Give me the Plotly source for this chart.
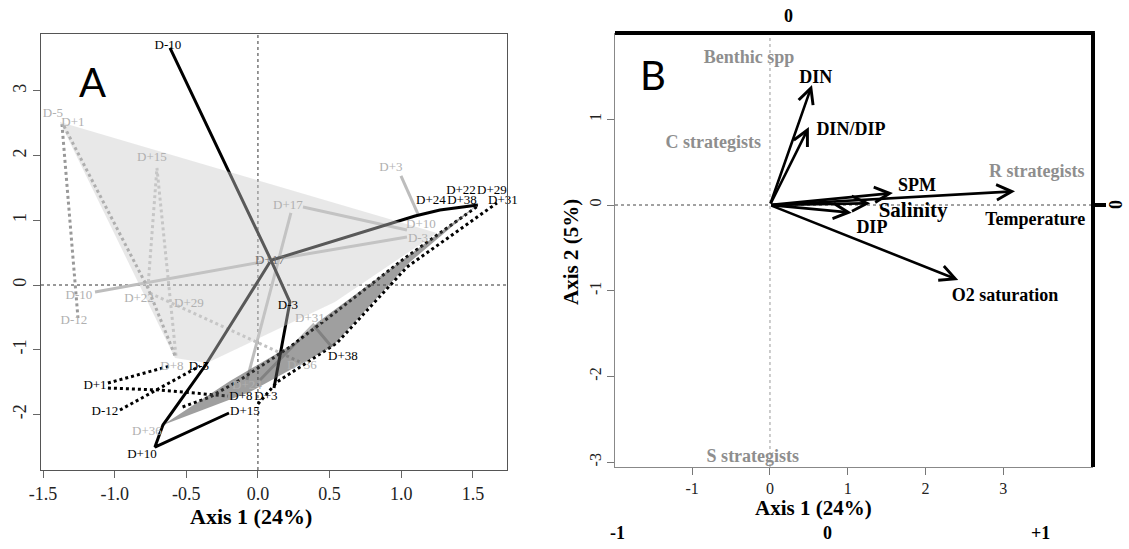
import plotly.graph_objects as go

W, H = 1129, 549
SERIF = "Liberation Serif"

# ================= Panel A : trajectories =================
# convex hulls
hull_light_x = [-1.382, 1.249, 0.537, -0.356, -0.579]
hull_light_y = [2.519, 0.804, -0.263, -1.206, -1.128]
hull_dark_x = [-0.663, -0.195, 0.293, 0.419, 1.549, 1.061, 0.516, -0.056]
hull_dark_y = [-2.164, -1.484, -0.850, -0.572, 1.267, 0.355, -0.958, -1.654]

# black solid trajectories
blk1_x = [-0.614, 0.084, 0.223, 0.112]
blk1_y = [3.663, 0.417, -0.263, -1.592]
blk2_x = [0.084, -0.370, -0.663, -0.719, -0.202]
blk2_y = [0.355, -1.252, -2.164, -2.504, -1.978]
blk3_x = [0.098, 1.096, 1.270, 1.535]
blk3_y = [0.386, 1.066, 1.159, 1.236]

# light grey solid trajectories
lgt1_x = [-1.137, 0.028]
lgt1_y = [-0.108, 0.355]
lgt2_x = [0.230, -0.077]
lgt2_y = [1.113, -1.468]
lgt3_x = [0.314, 1.040]
lgt3_y = [1.206, 0.850]
lgt4_x = [0.174, 1.040]
lgt4_y = [0.417, 0.742]
lgt5_x = [0.998, 1.117]
lgt5_y = [1.685, 1.097]
lgt6_x = [0.014, 0.386, 0.516]
lgt6_y = [-1.468, -0.618, -0.958]

# light grey dotted trajectories
lgd1_x = [-0.768, -0.705, -0.572]
lgd1_y = [-0.046, 1.808, -1.097]
lgd2_x = [-0.754, 0.293]
lgd2_y = [-0.124, -1.190]

# medium grey dotted trajectories
mgd1_x = [-1.368, -1.256]
mgd1_y = [2.488, -0.510]
mgd2_x = [-1.354, -0.768, -0.572]
mgd2_y = [2.457, -0.046, -1.128]

# black dotted trajectories
bkd1_x = [-1.047, -0.614]
bkd1_y = [-1.515, -1.252]
bkd2_x = [-1.047, -0.684, -0.209]
bkd2_y = [-1.592, -1.623, -1.716]
bkd3_x = [-0.963, -0.405]
bkd3_y = [-1.932, -1.252]
bkd4_x = [-0.526, -0.335, -0.126, 0.223, 0.516, 1.026, 1.535]
bkd4_y = [-1.885, -1.731, -1.468, -0.958, -0.464, 0.417, 1.221]
bkd5_x = [0.000, 0.133, 0.551, 1.040, 1.668]
bkd5_y = [-1.839, -1.499, -0.896, 0.278, 1.267]

# sample labels
lab_black = ["D-10", "D+22", "D+29", "D+24", "D+38", "D+31", "D-3", "D+38",
             "D-5", "D+8", "D+3", "D+15", "D+10", "D+1", "D-12"]
lab_black_x = [-0.628, 1.417, 1.633, 1.207, 1.424, 1.710, 0.209, 0.593,
               -0.412, -0.119, 0.056, -0.091, -0.809, -1.137, -1.068]
lab_black_y = [3.694, 1.453, 1.453, 1.298, 1.298, 1.298, -0.325, -1.113,
               -1.267, -1.731, -1.731, -1.963, -2.628, -1.561, -1.963]
lab_mid = ["D+17"]
lab_mid_x = [0.084]
lab_mid_y = [0.371]
lab_light = ["D-5", "D+1", "D+15", "D-10", "D-12", "D+22", "D+29", "D+8",
             "D+36", "D+17", "D+3", "D+10", "D-3", "D+31", "D+36", "D+24"]
lab_light_x = [-1.431, -1.291, -0.740, -1.249, -1.284, -0.830, -0.482, -0.600,
               -0.775, 0.209, 0.928, 1.137, 1.117, 0.363, 0.307, -0.077]
lab_light_y = [2.643, 2.504, 1.963, -0.170, -0.556, -0.216, -0.294, -1.267,
               -2.272, 1.221, 1.808, 0.927, 0.711, -0.525, -1.252, -1.561]

a_xticks = [-1.5, -1.0, -0.5, 0.0, 0.5, 1.0, 1.5]
a_xtick_text = ["-1.5", "-1.0", "-0.5", "0.0", "0.5", "1.0", "1.5"]
a_yticks = [-2, -1, 0, 1, 2, 3]
a_ytick_text = ["-2", "-1", "0", "1", "2", "3"]

# ================= Panel B : correlation arrows =================
var_names = ["DIN", "DIN/DIP", "SPM", "Salinity", "DIP", "Temperature", "O2 saturation"]
arrow_x = [0.54, 0.50, 1.58, 1.29, 1.05, 3.15, 2.42]
arrow_y = [1.40, 0.91, 0.14, 0.02, -0.09, 0.16, -0.875]
var_lab_x = [0.59, 1.04, 1.89, 1.84, 1.31, 3.41, 3.02]
var_lab_y = [1.48, 0.875, 0.22, -0.08, -0.27, -0.175, -1.07]
var_lab_size = [18, 18, 18, 21, 18, 18, 18]

grp_names = ["Benthic spp", "C strategists", "R strategists", "S strategists"]
grp_x = [-0.27, -0.73, 3.43, -0.22]
grp_y = [1.715, 0.72, 0.385, -2.95]

b_xticks = [-2, -1, 0, 1, 2, 3]
b_xtick_text = ["-2", "-1", "0", "1", "2", "3"]
b_yticks = [-3, -2, -1, 0, 1]
b_ytick_text = ["-3", "-2", "-1", "0", "1"]


def join(paths):
    xs, ys = [], []
    for px, py in paths:
        xs += list(px) + [None]
        ys += list(py) + [None]
    return xs, ys


fig = go.Figure()


def add_lines(paths, color, dash, width=3):
    xs, ys = join(paths)
    fig.add_trace(go.Scatter(x=xs, y=ys, mode="lines", xaxis="x", yaxis="y",
                             line=dict(color=color, width=width, dash=dash),
                             hoverinfo="skip", showlegend=False))


add_lines([(lgt1_x, lgt1_y), (lgt2_x, lgt2_y), (lgt3_x, lgt3_y), (lgt4_x, lgt4_y),
           (lgt5_x, lgt5_y), (lgt6_x, lgt6_y)], "#bdbdbd", "solid")
add_lines([(lgd1_x, lgd1_y), (lgd2_x, lgd2_y)], "#c2c2c2", "3px,3px")
add_lines([(mgd1_x, mgd1_y), (mgd2_x, mgd2_y)], "#999999", "3px,3px")
add_lines([(blk1_x, blk1_y), (blk2_x, blk2_y), (blk3_x, blk3_y)], "#000000", "solid")
add_lines([(bkd1_x, bkd1_y), (bkd2_x, bkd2_y), (bkd3_x, bkd3_y),
           (bkd4_x, bkd4_y), (bkd5_x, bkd5_y)], "#000000", "3px,3px")

# hulls (semi-transparent, over the lines)
fig.add_trace(go.Scatter(x=hull_dark_x, y=hull_dark_y, fill="toself", mode="none",
                         fillcolor="rgba(80,80,80,0.55)", xaxis="x", yaxis="y",
                         hoverinfo="skip", showlegend=False))
fig.add_trace(go.Scatter(x=hull_light_x, y=hull_light_y, fill="toself", mode="none",
                         fillcolor="rgba(203,203,203,0.44)", xaxis="x", yaxis="y",
                         hoverinfo="skip", showlegend=False))


def add_text(xs, ys, texts, color, size, xa="x", ya="y", bold=False):
    t = [("<b>%s</b>" % s) if bold else s for s in texts]
    fig.add_trace(go.Scatter(x=xs, y=ys, text=t, mode="text", xaxis=xa, yaxis=ya,
                             textposition="middle center", cliponaxis=False,
                             textfont=dict(family=SERIF, size=size, color=color),
                             hoverinfo="skip", showlegend=False))


add_text(lab_light_x, lab_light_y, lab_light, "#b0b0b0", 13)
add_text(lab_mid_x, lab_mid_y, lab_mid, "#707070", 13)
add_text(lab_black_x, lab_black_y, lab_black, "#000000", 13)

# Panel B labels
for i in range(len(var_names)):
    add_text([var_lab_x[i]], [var_lab_y[i]], [var_names[i]], "#000000",
             var_lab_size[i], "x2", "y2", bold=True)
add_text(grp_x, grp_y, grp_names, "#8e8e8e", 18, "x2", "y2", bold=True)

annotations = []
for i in range(len(var_names)):
    annotations.append(dict(x=arrow_x[i], y=arrow_y[i], xref="x2", yref="y2",
                            ax=0, ay=0, axref="x2", ayref="y2", text="",
                            showarrow=True, arrowhead=5, arrowsize=1.15,
                            arrowwidth=2.6, arrowcolor="#000000",
                            standoff=0, startstandoff=0))


def pan(text, x, y, size, bold=False, angle=0, family=SERIF, color="#000000"):
    annotations.append(dict(text=("<b>%s</b>" % text) if bold else text,
                            x=x / W, y=1 - y / H, xref="paper", yref="paper",
                            showarrow=False, xanchor="center", yanchor="middle",
                            textangle=angle,
                            font=dict(family=family, size=size, color=color)))


pan("A", 92, 82, 40, family="Lato")
pan("B", 653, 75, 40, family="Lato")
pan("Axis 1 (24%)", 251, 516, 22, bold=True)
pan("Axis 1 (24%)", 813, 508, 21, bold=True)
pan("Axis 2 (5%)", 571, 252, 21, bold=True, angle=-90)
pan("0", 788, 16, 18, bold=True)
pan("0", 1116, 205, 18, bold=True, angle=-90)
pan("-1", 617, 533, 18, bold=True)
pan("0", 827, 533, 18, bold=True)
pan("+1", 1040, 533, 18, bold=True)

shapes = [
    dict(type="line", xref="x", yref="y domain", x0=0, x1=0, y0=0, y1=1,
         line=dict(color="#333333", width=1, dash="dot"), layer="below"),
    dict(type="line", xref="x domain", yref="y", x0=0, x1=1, y0=0, y1=0,
         line=dict(color="#333333", width=1, dash="dot"), layer="below"),
    dict(type="line", xref="x2", yref="y2 domain", x0=0, x1=0, y0=0, y1=1,
         line=dict(color="#999999", width=1, dash="dot"), layer="below"),
    dict(type="line", xref="x2 domain", yref="y2", x0=0, x1=1, y0=0, y1=0,
         line=dict(color="#444444", width=1, dash="dot"), layer="below"),
    dict(type="line", xref="x2 domain", yref="y2 domain", x0=0, x1=1.004, y0=1, y1=1,
         line=dict(color="#000000", width=4)),
    dict(type="line", xref="x2 domain", yref="y2 domain", x0=1, x1=1, y0=0, y1=1,
         line=dict(color="#000000", width=4)),
    dict(type="line", xref="paper", yref="y2", x0=1093 / W, x1=1106 / W, y0=0, y1=0,
         line=dict(color="#000000", width=4)),
]

tickfont_a = dict(family=SERIF, size=18, color="#222222")
tickfont_b = dict(family=SERIF, size=16, color="#222222")

common = dict(ticks="outside", ticklen=7, showgrid=False, zeroline=False,
              linewidth=1, automargin=False)

fig.update_layout(
    width=W, height=H,
    margin=dict(l=0, r=0, t=0, b=0, autoexpand=False),
    paper_bgcolor="white", plot_bgcolor="white",
    showlegend=False,
    xaxis=dict(domain=[41 / W, 507 / W], range=[-1.514, 1.738],
               tickvals=a_xticks, ticktext=a_xtick_text, tickcolor="#666666",
               showline=True, mirror=True, linecolor="#555555",
               tickfont=tickfont_a, anchor="y", **common),
    yaxis=dict(domain=[1 - 470 / H, 1 - 34 / H], range=[-2.859, 3.879],
               tickvals=a_yticks, ticktext=a_ytick_text, tickcolor="#666666",
               showline=True, mirror=True, linecolor="#555555",
               tickfont=tickfont_a, tickangle=-90, anchor="x", **common),
    xaxis2=dict(domain=[615 / W, 1093 / W], range=[-1.992, 4.152],
                tickvals=b_xticks, ticktext=b_xtick_text, tickcolor="#777777",
                showline=True, mirror=False, linecolor="#888888",
                tickfont=tickfont_b, anchor="y2", **common),
    yaxis2=dict(domain=[1 - 467 / H, 1 - 33 / H], range=[-3.057, 2.007],
                tickvals=b_yticks, ticktext=b_ytick_text, tickcolor="#777777",
                showline=True, mirror=False, linecolor="#888888",
                tickfont=tickfont_b, tickangle=-90, anchor="x2", **common),
    annotations=annotations,
    shapes=shapes,
)

fig.write_html("out.html",
               config={"displayModeBar": False},
               post_script="document.body.style.margin='0';"
                           "document.body.style.padding='0';"
                           "document.body.style.overflow='hidden';")
